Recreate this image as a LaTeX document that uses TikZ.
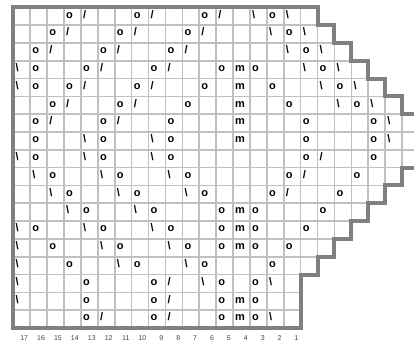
\documentclass[tikz,border=0pt]{standalone}
\usepackage{fontspec}
\setmainfont{Liberation Sans}
\definecolor{gridgray}{HTML}{C0C0C0}
\definecolor{bordergray}{HTML}{808080}
\definecolor{labgray}{HTML}{444444}
\begin{document}
\begin{tikzpicture}[x=1pt,y=-1pt,
  gridline/.style={draw=gridgray,line width=1.6pt},
  chartborder/.style={draw=bordergray,line width=4pt,line join=miter},
  sym/.style={anchor=base west,inner sep=0pt,font=\bfseries\fontsize{11}{11}\selectfont},
  lab/.style={anchor=base east,inner sep=0pt,text=labgray,font=\fontsize{7}{7}\selectfont}]
\useasboundingbox (0,0) rectangle (414,344);
\clip (0,0) rectangle (414,344);
\fill[white] (0,0) rectangle (414,344);
% grid cells
\foreach \w [count=\r] in {18,19,20,21,22,23,24,24,24,23,22,21,20,19,18,17,17,17}{
  \foreach \c in {1,...,\w}{
    \draw[gridline] ({13.3+16.9*(\c-1)},{7.5+17.8*(\r-1)}) rectangle ({13.3+16.9*\c},{7.5+17.8*\r});
  }
}
% outline
\draw[chartborder] (13.3,327.9) -- (13.3,7.5) -- (317.5,7.5) -- (317.5,25.3) -- (334.4,25.3) -- (334.4,43.1) -- (351.3,43.1) -- (351.3,60.9) -- (368.2,60.9) -- (368.2,78.7) -- (385.1,78.7) -- (385.1,96.5) -- (402,96.5) -- (402,114.3) -- (418.9,114.3) -- (418.9,167.7) -- (402,167.7) -- (402,185.5) -- (385.1,185.5) -- (385.1,203.3) -- (368.2,203.3) -- (368.2,221.1) -- (351.3,221.1) -- (351.3,238.9) -- (334.4,238.9) -- (334.4,256.7) -- (317.5,256.7) -- (317.5,274.5) -- (300.6,274.5) -- (300.6,327.9) -- cycle;
% yarn overs
\foreach \r/\c in {1/4,1/8,1/12,1/16,
  2/3,2/7,2/11,2/17,
  3/2,3/6,3/10,3/18,
  4/2,4/5,4/9,4/13,4/15,4/19,
  5/2,5/4,5/8,5/12,5/16,5/20,
  6/3,6/7,6/11,6/17,6/21,
  7/2,7/6,7/10,7/18,7/22,
  8/2,8/6,8/10,8/18,8/22,
  9/2,9/6,9/10,9/18,9/22,
  10/3,10/7,10/11,10/17,10/21,
  11/4,11/8,11/12,11/16,11/20,
  12/5,12/9,12/13,12/15,12/19,
  13/2,13/6,13/10,13/13,13/15,13/18,
  14/3,14/7,14/11,14/13,14/15,14/17,
  15/4,15/8,15/12,15/16,
  16/5,16/9,16/13,16/15,
  17/5,17/9,17/13,17/15,
  18/5,18/9,18/13,18/15}{
  \node[sym] (o-\r-\c) at ({13.3+16.9*(\c-1)+2},{7.5+17.8*(\r-0.5)+1.8}) {o};
}
% m
\foreach \r in {4,5,6,7,8,12,13,14,17,18}{
  \node[sym] (m-\r) at ({13.3+16.9*13+2},{7.5+17.8*(\r-0.5)+1.8}) {m};
}
% slashes
\foreach \r/\c in {1/5,1/9,1/13,2/4,2/8,2/12,3/3,3/7,3/11,4/6,4/10,5/5,5/9,6/4,6/8,7/3,7/7,
  9/19,10/18,11/17,16/10,17/10,18/6,18/10}{
  \node[sym] (s-\r-\c) at ({13.3+16.9*(\c-1)+2},{7.5+17.8*(\r-0.5)+1.8}) {/};
}
% backslashes
\foreach \r/\c in {1/15,1/17,2/16,2/18,3/17,3/19,4/1,4/18,4/20,5/1,5/19,5/21,6/20,6/22,
  7/23,8/5,8/9,8/23,9/1,9/5,9/9,10/2,10/6,10/10,11/3,11/7,11/11,12/4,12/8,
  13/1,13/5,13/9,14/1,14/6,14/10,15/1,15/7,15/11,16/1,16/12,16/16,17/1,18/16}{
  \node[sym] (b-\r-\c) at ({13.3+16.9*(\c-1)+2},{7.5+17.8*(\r-0.5)+1.8}) {\textbackslash};
}
% column numbers
\foreach \k in {1,...,17}{
  \node[lab] (n-\k) at ({13.3+16.9*(17-\k+0.5)+6.5},340.7) {\k};
}
\end{tikzpicture}
\end{document}
